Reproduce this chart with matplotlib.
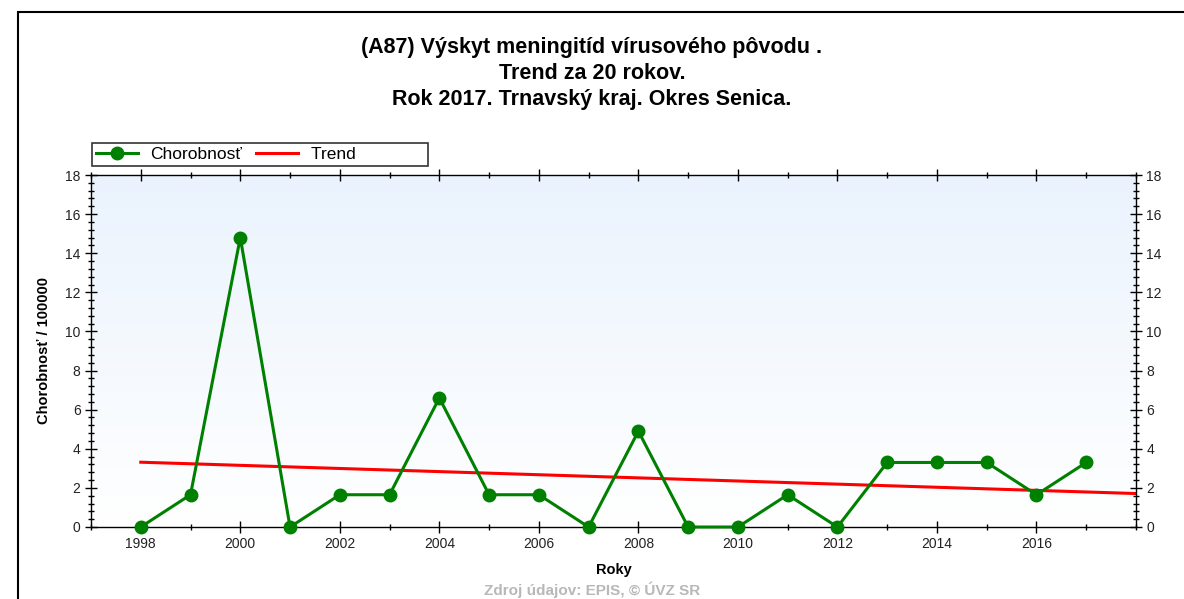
import numpy as np
import matplotlib.pyplot as plt
from matplotlib.ticker import MultipleLocator
from matplotlib.patches import Rectangle
from matplotlib.colors import LinearSegmentedColormap

plt.rcParams['font.family'] = ['Liberation Sans', 'DejaVu Sans']

roky = [1998, 1999, 2000, 2001, 2002, 2003, 2004, 2005, 2006, 2007,
        2008, 2009, 2010, 2011, 2012, 2013, 2014, 2015, 2016, 2017]
chorobnost = [0, 1.65, 14.8, 0, 1.65, 1.65, 6.6, 1.65, 1.65, 0,
              4.9, 0, 0, 1.65, 0, 3.3, 3.3, 3.3, 1.65, 3.3]
trend_roky = [1998, 2018]
titulok = ("(A87) Výskyt meningitíd vírusového pôvodu .\n"
           "Trend za 20 rokov.\n"
           "Rok 2017. Trnavský kraj. Okres Senica.")

fig = plt.figure(figsize=(11.84, 5.99), dpi=100)
ax = fig.add_axes([91/1184, 1 - 527/599, (1136 - 91)/1184, (527 - 175)/599])

# ramik okolo celeho obrazku
fig.patches.append(Rectangle((18/1184, -0.1), 1.2, 1 - 12/599 + 0.1,
                             transform=fig.transFigure, fill=False,
                             edgecolor='black', linewidth=1.5))

# pozadie - prechod
grad = np.linspace(0, 1, 256).reshape(-1, 1)
cmap = LinearSegmentedColormap.from_list('bg', ['#ffffff', '#eaf3fd'])
ax.imshow(grad, extent=[1997, 2018, 0, 18], aspect='auto', cmap=cmap,
          origin='lower', zorder=0)

# trend - linearna regresia
k, q = np.polyfit(roky, chorobnost, 1)
trend_vals = [k * r + q for r in trend_roky]

ax.plot(roky, chorobnost, color='#008000', linewidth=2.2, marker='o',
        markersize=9, label='Chorobnosť', zorder=3, clip_on=False)
ax.plot(trend_roky, trend_vals, color='#ff0000', linewidth=2.2,
        label='Trend' + ' ' * 14, zorder=2)

ax.set_xlim(1997, 2018)
ax.set_ylim(0, 18)
ax.xaxis.set_major_locator(MultipleLocator(2))
ax.xaxis.set_minor_locator(MultipleLocator(1))
ax.yaxis.set_major_locator(MultipleLocator(2))
ax.yaxis.set_minor_locator(MultipleLocator(0.4))
ax.tick_params(which='both', direction='inout', top=True, right=True,
               labelright=True, labelsize=10, colors='black',
               labelcolor='#222222')
ax.tick_params(which='major', length=8, width=1)
ax.tick_params(which='minor', length=5, width=1)
ax.set_xticks(range(1998, 2018, 2))
ax.set_xticklabels([str(r) for r in range(1998, 2018, 2)])
for s in ax.spines.values():
    s.set_linewidth(1)

ax.set_xlabel('Roky', fontsize=10.5, fontweight='bold', labelpad=8)
ax.set_ylabel('Chorobnosť / 100000', fontsize=10.5, fontweight='bold', labelpad=10)

fig.text(0.5, 1 - 37/599, titulok, ha='center', va='top', fontsize=15.5,
         fontweight='bold', linespacing=1.3)

leg = ax.legend(loc='lower left', bbox_to_anchor=(0.001, 1.025), ncol=2,
                frameon=True, fancybox=False, edgecolor='black',
                fontsize=12.5, handlelength=2.4, handletextpad=0.75,
                columnspacing=0.8, borderpad=0.22, borderaxespad=0)
leg.get_frame().set_linewidth(1.2)

fig.text(0.5, 1 - 590/599, 'Zdroj údajov: EPIS, © ÚVZ SR', ha='center',
         va='center', fontsize=11, fontweight='bold', color='#b8b8b8')

fig.savefig('out.png', dpi=100)
